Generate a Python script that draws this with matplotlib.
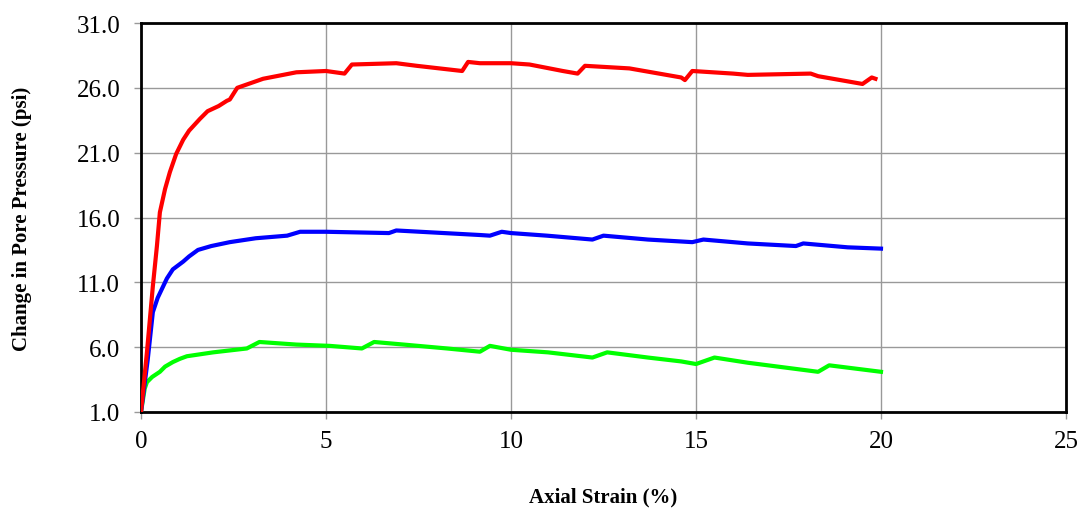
import matplotlib.pyplot as plt
from matplotlib.ticker import FormatStrFormatter

# --------------------------------------------------
# Data
# --------------------------------------------------

red_strain = [0.0, 0.16, 0.32, 0.43, 0.51, 0.65, 0.78, 0.95, 1.14, 1.3, 1.59, 1.8, 2.1,
              2.32, 2.4, 2.6, 3.3, 4.2, 5.0, 5.5, 5.7, 6.9, 7.45, 8.68, 8.84, 9.16,
              10.0, 10.5, 11.4, 11.8, 12.0, 13.2, 13.8, 14.6, 14.7, 14.9, 16.0,
              16.4, 18.1, 18.3, 18.9, 19.5, 19.75, 19.85]
red_pore = [1.0, 5.6, 10.7, 13.8, 16.4, 18.2, 19.5, 20.9, 22.0, 22.7, 23.6, 24.2, 24.6,
            25.0, 25.1, 26.0, 26.7, 27.2, 27.3, 27.1, 27.8, 27.9, 27.7, 27.3, 28.0, 27.9,
            27.9, 27.8, 27.3, 27.1, 27.7, 27.5, 27.2, 26.8, 26.6, 27.3, 27.1,
            27.0, 27.1, 26.9, 26.6, 26.3, 26.8, 26.7]

blue_strain = [0.0, 0.18, 0.32, 0.45, 0.6, 0.7, 0.86, 1.0, 1.14, 1.3, 1.54, 1.9, 2.4,
               3.1, 3.95, 4.3, 5.0, 6.7, 6.9, 9.16, 9.43, 9.75, 10.0, 10.97, 12.2,
               12.5, 13.7, 14.9, 15.2, 16.4, 17.7, 17.9, 19.1, 20.0]
blue_pore = [1.0, 5.0, 8.7, 9.8, 10.7, 11.3, 12.0, 12.3, 12.6, 13.0, 13.5, 13.8, 14.1,
             14.4, 14.6, 14.9, 14.9, 14.8, 15.0, 14.65, 14.6, 14.9, 14.8, 14.6, 14.3,
             14.6, 14.3, 14.1, 14.3, 14.0, 13.8, 14.0, 13.7, 13.6]

green_strain = [0.0, 0.1, 0.16, 0.3, 0.51, 0.65, 0.86, 1.05, 1.24, 1.95, 2.86, 3.2, 4.2,
                5.1, 5.97, 6.3, 7.1, 8.27, 9.16, 9.43, 10.0, 11.0, 12.2, 12.6, 13.7,
                14.6, 15.0, 15.5, 16.4, 18.3, 18.6, 20.0]
green_pore = [1.0, 2.8, 3.3, 3.7, 4.1, 4.5, 4.85, 5.1, 5.3, 5.6, 5.9, 6.4, 6.2,
              6.1, 5.9, 6.4, 6.2, 5.9, 5.65, 6.1, 5.8, 5.6, 5.2, 5.6, 5.2,
              4.9, 4.7, 5.2, 4.8, 4.1, 4.6, 4.1]

X_TICKS = [0, 5, 10, 15, 20, 25]
Y_TICKS = [1.0, 6.0, 11.0, 16.0, 21.0, 26.0, 31.0]

# --------------------------------------------------
# Plot
# --------------------------------------------------

plt.rcParams["font.family"] = ["Liberation Serif", "DejaVu Serif"]

fig = plt.figure(figsize=(10.83, 5.10), dpi=100)
ax = fig.add_axes([0.1302, 0.1902, 0.8541, 0.7627])

ax.plot(green_strain, green_pore, color="#00FF00", linewidth=3, zorder=3)
ax.plot(blue_strain, blue_pore, color="#0000FF", linewidth=3, zorder=4)
ax.plot(red_strain, red_pore, color="#FF0000", linewidth=3, zorder=5)

ax.set_xlim(0, 25)
ax.set_ylim(1, 31)
ax.set_xticks(X_TICKS)
ax.set_yticks(Y_TICKS)
ax.yaxis.set_major_formatter(FormatStrFormatter("%.1f"))

ax.grid(True, color="#999999", linewidth=1, zorder=0)
ax.set_axisbelow(True)

for spine in ax.spines.values():
    spine.set_color("black")
    spine.set_linewidth(2)

ax.tick_params(axis="both", direction="out", length=5, width=1, color="#999999",
               labelsize=18)
ax.tick_params(axis="y", pad=10)
ax.tick_params(axis="x", pad=8)

ax.set_xlabel("Axial Strain (%)", fontsize=15, fontweight="bold", va="center")
ax.set_ylabel("Change in Pore Pressure (psi)", fontsize=15, fontweight="bold", va="center")
ax.xaxis.set_label_coords(0.5, -0.216)
ax.yaxis.set_label_coords(-0.129, 0.5)

# --------------------------------------------------
# Output
# --------------------------------------------------

fig.savefig("out.png", dpi=100)
